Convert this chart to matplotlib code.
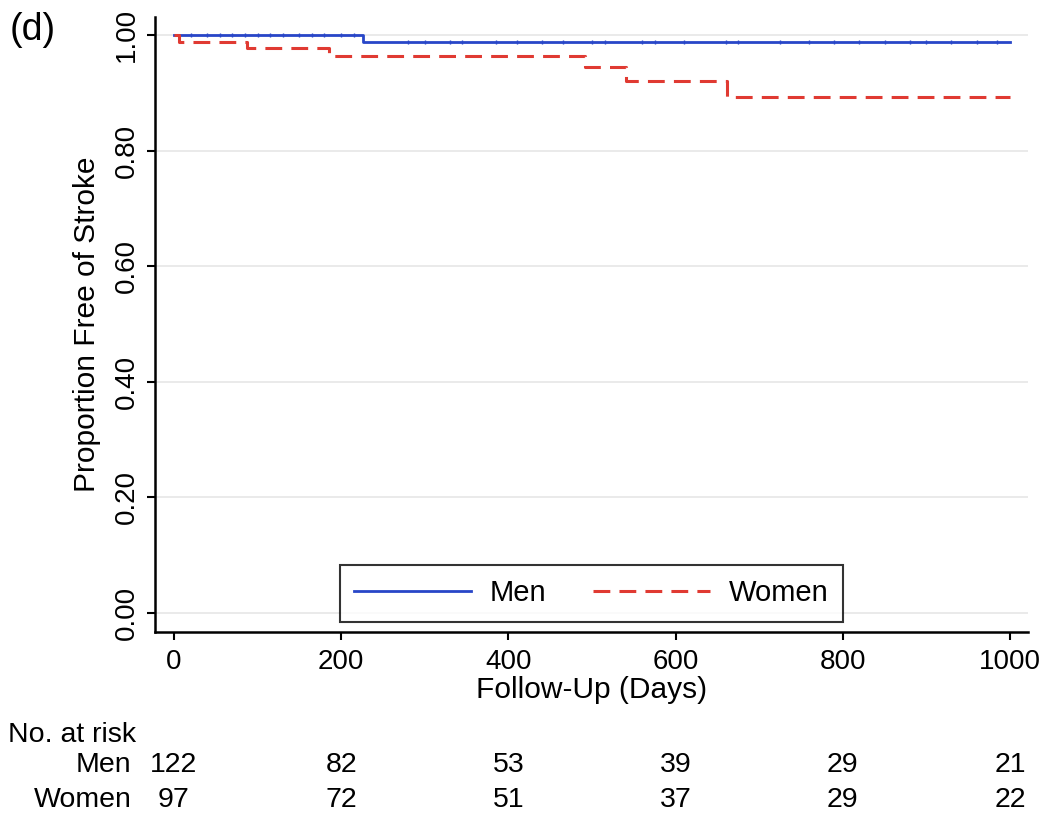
import matplotlib.pyplot as plt

plt.rcParams['font.family'] = ['Liberation Sans', 'DejaVu Sans']

# Kaplan-Meier step data (days, survival)
men_t = [0, 226, 1000]
men_s = [1.0, 0.988, 0.988]
women_t = [0, 6, 87, 186, 492, 541, 662, 1000]
women_s = [1.0, 0.988, 0.977, 0.964, 0.944, 0.921, 0.893, 0.893]

# censoring marks for men
men_cens = [20, 40, 55, 70, 85, 100, 115, 130, 150, 165, 180, 200, 215,
            280, 300, 330, 345, 385, 410, 440, 465, 500, 515, 560, 575, 610,
            660, 675, 725, 760, 790, 820, 850, 880, 900, 930, 960, 985]

risk_times = [0, 200, 400, 600, 800, 1000]
men_risk = [122, 82, 53, 39, 29, 21]
women_risk = [97, 72, 51, 37, 29, 22]

blue = '#2846c8'
red = '#e03a32'

fig = plt.figure(figsize=(10.5, 8.19), dpi=100)
ax = fig.add_axes([0.1476, 0.2283, 0.8314, 0.7507])

for y in [0, 0.2, 0.4, 0.6, 0.8, 1.0]:
    ax.axhline(y, color='#e6e6e6', lw=1.2, zorder=0)

ax.step(men_t, men_s, where='post', color=blue, lw=2.0, label='Men', zorder=3)
ax.step(women_t, women_s, where='post', color=red, lw=2.2, dashes=(5.5, 3),
        label='Women', zorder=3)
men_cens_s = [men_s[0] if t < men_t[1] else men_s[1] for t in men_cens]
ax.plot(men_cens, men_cens_s, ls='none', marker='|', ms=3, mew=1.0,
        color=blue, zorder=4)

ax.set_xlim(-22.7, 1021.5)
ax.set_ylim(-0.033, 1.031)
ax.set_xticks([0, 200, 400, 600, 800, 1000])
ax.set_yticks([0, 0.2, 0.4, 0.6, 0.8, 1.0])
ax.set_yticklabels(['0.00', '0.20', '0.40', '0.60', '0.80', '1.00'],
                   rotation=90, va='center')
ax.tick_params(axis='both', labelsize=20, length=6, width=1.5, direction='out')
ax.tick_params(axis='x', pad=6)
ax.tick_params(axis='y', pad=5)

for side in ['top', 'right']:
    ax.spines[side].set_visible(False)
for side in ['left', 'bottom']:
    ax.spines[side].set_linewidth(1.8)

ax.set_xlabel('Follow-Up (Days)', fontsize=21.5, labelpad=1)
ax.set_ylabel('Proportion Free of Stroke', fontsize=21.5, labelpad=9)

leg = ax.legend(loc='lower center', ncol=2, fontsize=21, frameon=True,
                fancybox=False, edgecolor='black', handlelength=4.0,
                handletextpad=0.65, columnspacing=1.6,
                bbox_to_anchor=(0.5, 0.0), borderaxespad=0.35,
                borderpad=0.5)
leg.get_frame().set_linewidth(1.5)

fig.text(0.009, 0.985, '(d)', fontsize=27, va='top', ha='left')

# number at risk table
fig.text(0.008, 0.102, 'No. at risk', fontsize=20.5, va='center', ha='left')
fig.text(0.125, 0.066, 'Men', fontsize=20.5, va='center', ha='right')
fig.text(0.125, 0.023, 'Women', fontsize=20.5, va='center', ha='right')
for t, m, w in zip(risk_times, men_risk, women_risk):
    xf = fig.transFigure.inverted().transform(ax.transData.transform((t, 0)))[0]
    fig.text(xf, 0.066, str(m), fontsize=20.5, va='center', ha='center')
    fig.text(xf, 0.023, str(w), fontsize=20.5, va='center', ha='center')

fig.savefig('out.png', dpi=100)
